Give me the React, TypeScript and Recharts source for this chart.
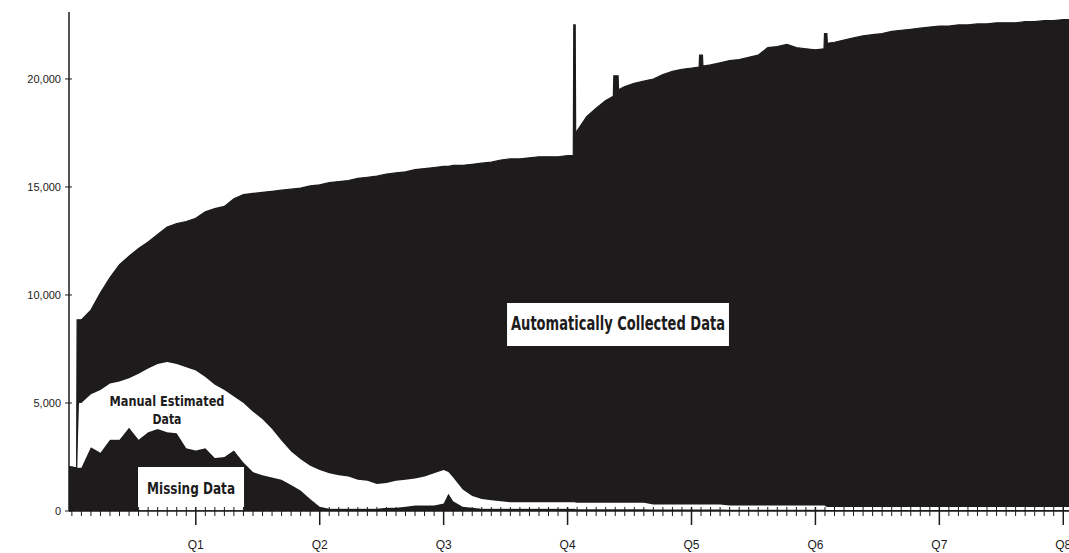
import { AreaChart, Area, XAxis, YAxis, ReferenceArea } from 'recharts'

const INK = '#1d1b1c'

// x position in weeks from the start of the record (13 weeks per quarter)
const weeks = [
  -0.3, 0.5, 0.55, 0.75, 1, 2, 3, 4, 5, 6,
  7, 8, 9, 10, 11, 12, 13, 14, 15, 16,
  17, 18, 19, 20, 21, 22, 23, 24, 25, 26,
  27, 28, 29, 30, 31, 32, 33, 34, 35, 36,
  37, 38, 39, 39.5, 40, 41, 42, 43, 44, 45,
  46, 47, 48, 49, 50, 51, 52, 52.6, 52.65, 52.8,
  52.85, 53, 54, 55, 56, 56.8, 56.85, 57.3, 57.35, 58,
  59, 60, 61, 62, 63, 64, 65, 65.8, 65.85, 66.15,
  66.2, 67, 68, 69, 70, 71, 72, 73, 74, 75,
  76, 77, 78, 78.9, 78.95, 79.2, 79.25, 80, 81, 82,
  83, 84, 85, 86, 87, 88, 89, 90, 91, 92,
  93, 94, 95, 96, 97, 98, 99, 100, 101, 102,
  103, 104, 104.6,
]

const missingData = [
  2050, 2000, 2000, 2000, 2000, 2950, 2700, 3300, 3300, 3850,
  3300, 3650, 3800, 3650, 3600, 2900, 2800, 2900, 2450, 2500,
  2800, 2250, 1800, 1650, 1550, 1450, 1200, 950, 550, 200,
  100, 100, 100, 100, 100, 100, 150, 150, 200, 250,
  250, 250, 350, 800, 450, 200, 150, 100, 100, 100,
  100, 100, 100, 100, 100, 100, 100, 100, 100, 100,
  80, 80, 80, 80, 80, 80, 80, 80, 80, 80,
  80, 80, 70, 70, 70, 70, 70, 70, 70, 70,
  70, 70, 70, 60, 60, 60, 60, 60, 60, 60,
  60, 60, 60, 60, 60, 50, 50, 50, 50, 50,
  50, 50, 50, 50, 50, 50, 50, 50, 50, 50,
  50, 50, 50, 50, 50, 50, 50, 50, 50, 50,
  50, 50, 50,
]

const manualEstimated = [
  0, 0, 0, 3000, 3000, 2450, 2900, 2600, 2700, 2300,
  3050, 2950, 3000, 3250, 3200, 3750, 3700, 3300, 3400, 3100,
  2500, 2750, 2800, 2600, 2250, 1800, 1550, 1450, 1550, 1700,
  1650, 1550, 1500, 1350, 1300, 1150, 1150, 1250, 1250, 1250,
  1350, 1500, 1550, 1000, 1100, 800, 550, 450, 400, 350,
  300, 300, 300, 300, 300, 300, 300, 300, 300, 300,
  300, 300, 300, 300, 300, 300, 300, 300, 300, 300,
  300, 300, 230, 230, 230, 230, 230, 230, 230, 230,
  230, 230, 230, 190, 190, 190, 190, 190, 190, 190,
  190, 190, 190, 190, 190, 130, 130, 130, 130, 130,
  130, 130, 130, 130, 130, 130, 130, 130, 130, 130,
  130, 130, 130, 130, 130, 130, 130, 130, 130, 130,
  130, 130, 130,
]

const automaticallyCollected = [
  0, 0, 6850, 3850, 3850, 3900, 4500, 4900, 5400, 5650,
  5800, 5850, 6000, 6250, 6500, 6750, 7050, 7650, 8150, 8500,
  9150, 9650, 10100, 10500, 11000, 11600, 12150, 12550, 12950, 13200,
  13450, 13600, 13700, 13950, 14050, 14250, 14300, 14250, 14250, 14300,
  14250, 14150, 14050, 14150, 14450, 15000, 15350, 15550, 15650, 15800,
  15900, 15900, 15950, 16000, 16000, 16000, 16050, 16050, 22100, 22100,
  17120, 17220, 17870, 18270, 18620, 18820, 19770, 19770, 19120, 19270,
  19420, 19520, 19700, 19900, 20050, 20150, 20200, 20250, 20800, 20800,
  20300, 20350, 20450, 20600, 20650, 20750, 20850, 21200, 21250, 21350,
  21200, 21150, 21100, 21150, 21850, 21920, 21470, 21520, 21620, 21720,
  21820, 21870, 21920, 22020, 22070, 22120, 22170, 22220, 22270, 22270,
  22320, 22320, 22370, 22370, 22420, 22420, 22420, 22470, 22470, 22520,
  22520, 22570, 22570,
]

const quarterLabels = ['Q1', 'Q2', 'Q3', 'Q4', 'Q5', 'Q6', 'Q7', 'Q8']
const valueTicks = [0, 5000, 10000, 15000, 20000]
const weekTicks = Array.from({ length: 105 }, (_, i) => i)

const data = weeks.map((w, i) => ({
  w,
  missing: missingData[i],
  manual: manualEstimated[i],
  automatic: automaticallyCollected[i],
}))

const SANS = "'Liberation Sans', Arial, sans-serif"
const NARROW = "'Liberation Sans Narrow', 'DejaVu Sans Condensed', 'Liberation Sans', Arial, sans-serif"

function WeekTick(props: any) {
  const { x, y, payload } = props
  const w = payload.value as number
  const isQuarter = w > 0 && w % 13 === 0
  return (
    <g>
      <line
        x1={x}
        x2={x}
        y1={y - 4}
        y2={y + (isQuarter ? 14 : 5)}
        stroke={INK}
        strokeWidth={isQuarter ? 1.5 : 1}
      />
      {isQuarter && (
        <text x={x} y={y + 38} textAnchor="middle" fontSize={12} fill={INK} fontFamily={SANS}>
          {quarterLabels[w / 13 - 1]}
        </text>
      )}
    </g>
  )
}

function ValueTick(props: any) {
  const { x, y, payload } = props
  return (
    <g>
      <line x1={x - 4} x2={x + 3} y1={y} y2={y} stroke={INK} strokeWidth={1} />
      <text x={x - 8} y={y} dy="0.35em" textAnchor="end" fontSize={11} fill={INK} fontFamily={SANS}>
        {(payload.value as number).toLocaleString('en-US')}
      </text>
    </g>
  )
}

// text centred in a reference area, squeezed to the measured width
function BoxText(props: any) {
  const { viewBox, lines, size, widths, offsets } = props
  if (!viewBox) return null
  const cx = viewBox.x + viewBox.width / 2
  const cy = viewBox.y + viewBox.height / 2
  return (
    <g>
      {lines.map((t: string, i: number) => (
        <text
          key={t}
          x={cx}
          y={cy + offsets[i]}
          textAnchor="middle"
          fontSize={size}
          fontWeight="bold"
          fontFamily={NARROW}
          fill={INK}
          textLength={widths[i]}
          lengthAdjust="spacingAndGlyphs"
        >
          {t}
        </text>
      ))}
    </g>
  )
}

export default function App() {
  return (
    <div style={{ position: 'absolute', left: 0, top: 0, width: 1069, height: 553, background: '#fff' }}>
      <AreaChart width={1069} height={553} data={data} margin={{ top: 12, right: 0, bottom: 0, left: 0 }}>
        <XAxis
          dataKey="w"
          type="number"
          domain={[-0.3, 104.6]}
          ticks={weekTicks}
          interval={0}
          tick={<WeekTick />}
          tickLine={false}
          tickSize={0}
          tickMargin={0}
          height={42}
          axisLine={{ stroke: INK, strokeWidth: 1.5 }}
        />
        <YAxis
          type="number"
          domain={[0, 23100]}
          ticks={valueTicks}
          interval={0}
          tick={<ValueTick />}
          tickLine={false}
          tickSize={0}
          tickMargin={0}
          width={69}
          axisLine={{ stroke: INK, strokeWidth: 1.5 }}
        />
        <Area
          type="linear"
          dataKey="missing"
          stackId="1"
          stroke={INK}
          strokeWidth={1}
          fill={INK}
          fillOpacity={1}
          dot={false}
          activeDot={false}
          isAnimationActive={false}
        />
        <Area
          type="linear"
          dataKey="manual"
          stackId="1"
          stroke="none"
          fill="#ffffff"
          fillOpacity={1}
          dot={false}
          activeDot={false}
          isAnimationActive={false}
        />
        <Area
          type="linear"
          dataKey="automatic"
          stackId="1"
          stroke={INK}
          strokeWidth={1.2}
          fill={INK}
          fillOpacity={1}
          dot={false}
          activeDot={false}
          isAnimationActive={false}
        />
        <ReferenceArea
          x1={45.65}
          x2={68.93}
          y1={7640}
          y2={9630}
          fill="#ffffff"
          fillOpacity={1}
          stroke="none"
          label={<BoxText lines={['Automatically Collected Data']} size={19} widths={[214]} offsets={[6]} />}
        />
        <ReferenceArea
          x1={6.94}
          x2={18.06}
          y1={40}
          y2={2040}
          fill="#ffffff"
          fillOpacity={1}
          stroke="none"
          label={<BoxText lines={['Missing Data']} size={16} widths={[88]} offsets={[5]} />}
        />
        <ReferenceArea
          x1={4.0}
          x2={15.96}
          y1={3890}
          y2={5460}
          fill="none"
          fillOpacity={0}
          stroke="none"
          label={<BoxText lines={['Manual Estimated', 'Data']} size={14} widths={[115, 29]} offsets={[-4, 14]} />}
        />
      </AreaChart>
    </div>
  )
}
